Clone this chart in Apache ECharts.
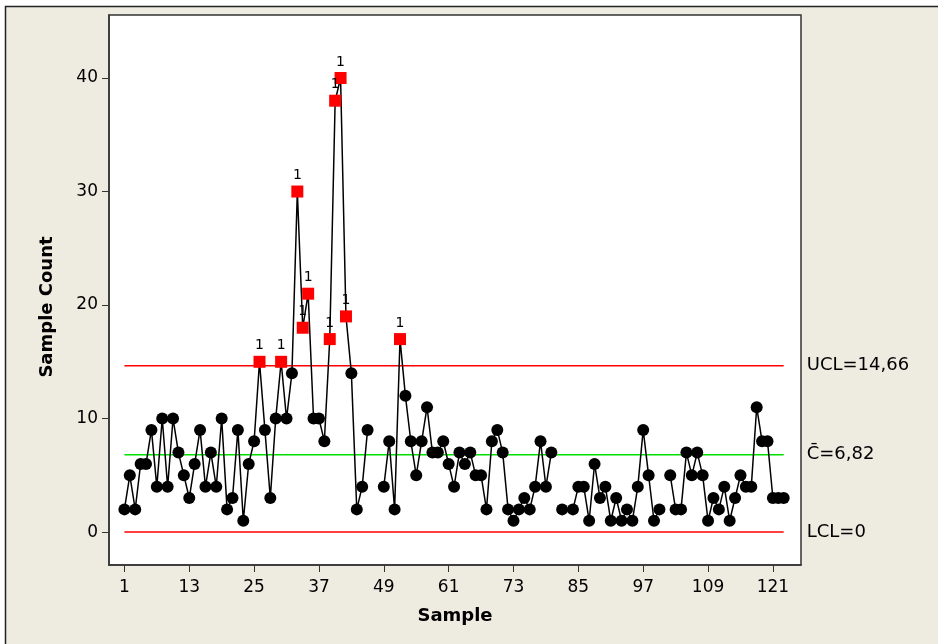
<!DOCTYPE html>
<html>
	<head>
		<meta charset="utf-8">
		<title>C Chart of Sample Count</title>
		<style>
			html,body{margin:0;padding:0;background:#fff;}
			#cChart{width:938px;height:644px;}
		</style>
	</head>
	<body>
		<div id="cChart"></div>
		<script src="https://cdn.jsdelivr.net/npm/echarts/dist/echarts.min.js" type="text/javascript" charset="utf-8"></script>
		<script type="text/javascript">
			// sample counts, null = sample not plotted
			var counts = [
				2,5,2,6,6,9,4,10,4,10,
				7,5,3,6,9,4,7,4,10,2,
				3,9,1,6,8,15,9,3,10,15,
				10,14,30,18,21,10,10,8,17,38,
				40,19,14,2,4,9,null,null,4,8,
				2,17,12,8,5,8,11,7,7,8,
				6,4,7,6,7,5,5,2,8,9,
				7,2,1,2,3,2,4,8,4,7,
				null,2,null,2,4,4,1,6,3,4,
				1,3,1,2,1,4,9,5,1,2,
				null,5,2,2,7,5,7,5,1,3,
				2,4,1,3,5,4,4,11,8,8,
				3,3,3
			];
			var xTicks = [1,13,25,37,49,61,73,85,97,109,121];
			var yTicks = [0,10,20,30,40];
			var ucl = 14.66, cBar = 6.82, lcl = 0;
			var limitNames = ['UCL=14,66','C\u0304=6,82','LCL=0'];

			var myChart = echarts.init(document.getElementById('cChart'));
			var fontFam = '"DejaVu Sans", Verdana, sans-serif';

			// build point list, flag points above UCL as red squares with test label "1"
			var pts = [];
			for(var i = 0; i < counts.length; i++){
				var v = counts[i];
				if(v === null){
					pts.push([i + 1, '-']);
				}else if(v > ucl){
					pts.push({
						value:[i + 1, v],
						symbol:'rect',
						symbolSize:12,
						itemStyle:{color:'#ff0000'},
						label:{show:true, formatter:'1'}
					});
				}else{
					pts.push([i + 1, v]);
				}
			}
			var nSample = counts.length;
			function limitSeries(val, color, name){
				return {
					type:'line',
					data:[[1, val],[nSample, val]],
					symbol:'none',
					silent:true,
					z:1,
					lineStyle:{color:color, width:1.5},
					endLabel:{
						show:true,
						formatter:name,
						distance:23,
						color:'#000',
						fontSize:18,
						fontFamily:fontFam
					}
				};
			}

			var option = {
				backgroundColor:'#fff',
				animation:false,
				graphic:[{
					type:'rect',
					shape:{x:5.5, y:6.5, width:940, height:645},
					style:{fill:'#eeebe1', stroke:'#222', lineWidth:1.5},
					z:-10
				},{
					type:'text',
					x:47, y:307,
					rotation:Math.PI / 2,
					style:{
						text:'Sample Count',
						fontSize:18,
						fontWeight:'bold',
						fontFamily:fontFam,
						fill:'#000',
						align:'center',
						verticalAlign:'middle'
					}
				}],
				grid:{
					left:109,
					top:15,
					width:692,
					height:550,
					show:true,
					backgroundColor:'#fff',
					borderColor:'#333',
					borderWidth:1.5
				},
				xAxis:{
					type:'value',
					min:-1.85,
					max:126.2,
					name:'Sample',
					nameLocation:'middle',
					nameGap:42,
					nameTextStyle:{fontSize:18, fontWeight:'bold', color:'#000', fontFamily:fontFam},
					splitLine:{show:false},
					axisLine:{show:true, onZero:false, lineStyle:{color:'#333', width:1.5}},
					axisTick:{show:true, customValues:xTicks, length:7, lineStyle:{color:'#333'}},
					axisLabel:{customValues:xTicks, margin:14, fontSize:17, color:'#000', fontFamily:fontFam}
				},
				yAxis:{
					type:'value',
					min:-2.9,
					max:45.55,
					splitLine:{show:false},
					axisLine:{show:true, onZero:false, lineStyle:{color:'#333', width:1.5}},
					axisTick:{show:true, customValues:yTicks, length:7, lineStyle:{color:'#333'}},
					axisLabel:{customValues:yTicks, margin:11, fontSize:17, color:'#000', fontFamily:fontFam}
				},
				series:[
					limitSeries(ucl, '#ff0000', limitNames[0]),
					limitSeries(cBar, '#00e000', limitNames[1]),
					limitSeries(lcl, '#ff0000', limitNames[2]),
					{
						type:'line',
						data:pts,
						z:5,
						connectNulls:false,
						symbol:'circle',
						symbolSize:12,
						showAllSymbol:true,
						itemStyle:{color:'#000'},
						lineStyle:{color:'#000', width:1.5},
						label:{
							show:false,
							position:'top',
							distance:3,
							fontSize:14,
							color:'#000',
							fontFamily:fontFam
						}
					}
				]
			};
			myChart.setOption(option);
		</script>
	</body>
</html>
